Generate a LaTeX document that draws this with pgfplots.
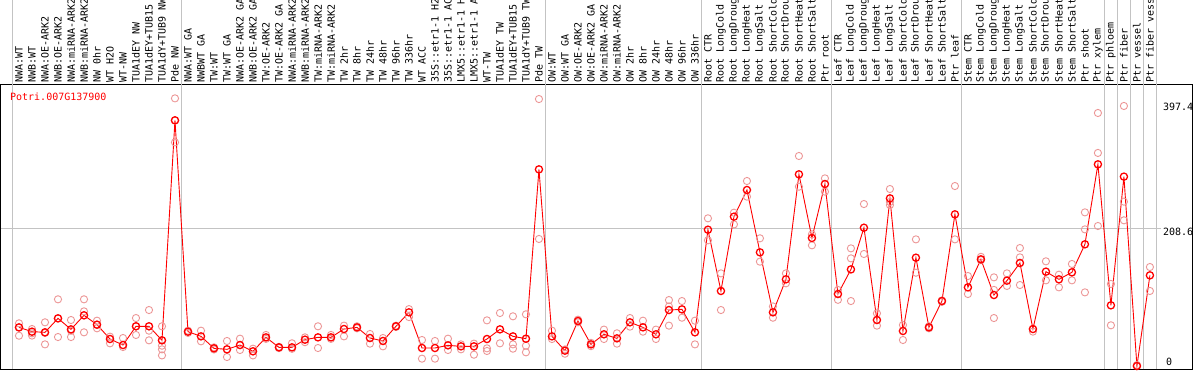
\documentclass[border=0pt]{standalone}
\usepackage{pgfplots}
\pgfplotsset{compat=1.18}
\usepackage{fontspec}
\newfontfamily\mono{DejaVu Sans Mono}
\definecolor{repink}{RGB}{236,150,150}
\definecolor{gridgray}{RGB}{195,195,195}

\pgfplotstableread{
x y
0 64.5
0 58
0 45.8
1 55.9
1 49.4
1 46
2 66
2 50
2 32.7
3 100.8
3 72
3 43.8
4 69.5
4 53.4
4 43.8
5 100.8
5 82.6
5 50.9
6 68.5
6 62
6 57
7 44.3
7 34.3
8 42.3
8 28.7
9 72.5
9 60
9 46.9
10 84.6
10 53.4
10 38.8
11 60
11 38.8
11 30.7
11 25.2
11 16
12 404.5
12 371
12 338
13 53.4
13 50
14 53.4
14 37.3
15 28.2
15 25
16 37.8
16 13.6
17 41.3
17 24.2
18 26.2
18 16
19 46.9
19 41
20 29
20 27
21 34.3
21 26
22 43.3
22 36
23 60
23 27.2
24 46.9
24 41
25 61
25 44.8
26 60
26 57
27 48.4
27 33.8
28 42.3
28 29.7
29 61
29 59
30 86
30 74
31 39.3
31 11.1
32 37.8
32 11.1
33 41.3
33 24.2
34 32.7
34 25.2
35 33.8
35 17.1
36 69
36 26.7
36 22.7
37 80.1
37 34.3
38 75.1
38 32.7
38 26.2
39 78.1
39 30.7
39 20.7
40 403.5
40 192
41 53.4
41 40.8
42 25
42 18.6
43 70
43 66
44 35
44 30
45 55
45 40.8
46 49.4
46 33.8
47 72.5
47 59.5
48 68.5
48 51.9
49 55
49 40.8
50 99.7
50 90
50 61
51 98.2
51 73
52 68.5
52 32.7
53 223.2
53 190
54 140
54 84.6
55 231.7
55 214
56 279.6
56 256
57 193
57 157.7
58 90
58 73
59 140
59 125
60 317.4
60 271
61 199
61 182.4
62 283.6
62 263.5
63 115
63 100
64 177.8
64 162.7
64 98.2
65 244.8
65 169.3
66 79.6
66 61
67 267.5
67 248
67 243.3
68 62
68 39.3
69 191.4
69 141
70 60
70 57
71 99
71 97
72 272
72 191.4
73 136
73 108.8
74 165
74 160
75 134
75 115
75 72.5
76 140
76 121
77 178.3
77 164.2
77 122.4
78 52
79 158.2
79 129.5
80 138
80 118.9
81 154.2
81 129.5
82 232.2
82 206.5
82 111.3
83 382.4
83 322
83 211.6
84 124
84 61.5
85 393
85 248.4
85 220.2
86 1.5
87 149.6
87 113.4
}\reps

\pgfplotstableread{
x y
0 58.4
1 51.9
2 50.9
3 72
4 55.4
5 76.6
6 62.5
7 40.8
8 31.7
9 60
10 60
11 38.8
12 371.3
13 51.9
14 44.8
15 26.7
16 25.2
17 31.7
18 22.2
19 43.3
20 28.2
21 28.2
22 39.8
23 43.3
24 43.3
25 55.9
26 58.4
27 42.3
28 37.8
29 60
30 81.1
31 27.2
32 27.2
33 31.2
34 29.7
35 29.7
36 40.8
37 55.4
38 44.8
39 41.3
40 297.2
41 44.8
42 23.2
43 68
44 32.7
45 47.9
46 41.8
47 66
48 58.4
49 47.9
50 84.6
51 85.6
52 50.9
53 206
54 113.4
55 225.7
56 266
57 171.8
58 81.1
59 131
60 289.7
61 193.5
62 275
63 108.8
64 146
65 209
66 69.5
67 253.4
68 52.9
69 163.7
70 58.4
71 98.2
72 229.2
73 118.9
74 161.2
75 107.3
76 129
77 155.7
78 55.9
79 142.6
80 131
81 141.6
82 183.9
83 304.8
84 91.7
85 286.2
86 0
87 137
}\means

\begin{document}
\begin{tikzpicture}[x=1pt,y=1pt]
\useasboundingbox (0,0) rectangle (1194,370);
\clip (0,0) rectangle (1194,370);
\begin{axis}[
  at={(1pt,1pt)}, anchor=south west,
  scale only axis, width=1192pt, height=284pt,
  xmin=-1.3846, xmax=90.3077, ymin=-4.53, ymax=424.7,
  clip=false,
  axis line style={black, line width=1pt},
  major tick length=0pt,
  xtick={0,...,87},
  xticklabels={NWA:WT,NWB:WT,NWA:OE-ARK2,NWB:OE-ARK2,NWA:miRNA-ARK2,NWB:miRNA-ARK2,NW 0hr,WT H2O,WT-NW,TUA1dEY NW,TUA1dEY+TUB15 NW,TUA1dY+TUB9 NW,Pde NW,
    NWA:WT GA,NWBWT GA,TW:WT,TW:WT GA,NWA:OE-ARK2 GA,NWB:OE-ARK2 GA,TW:OE-ARK2,TW:OE-ARK2 GA,NWA:miRNA-ARK2,NWB:miRNA-ARK2,TW:miRNA-ARK2,TW:miRNA-ARK2,TW 2hr,TW 8hr,TW 24hr,TW 48hr,TW 96hr,TW 336hr,WT ACC,35S::etr1-1 H2O,35S::etr1-1 ACC,LMX5::etr1-1 H2O,LMX5::etr1-1 ACC,WT-TW,TUA1dEY TW,TUA1dEY+TUB15 TW,TUA1dY+TUB9 TW,Pde TW,
    OW:WT,OW:WT GA,OW:OE-ARK2,OW:OE-ARK2 GA,OW:miRNA-ARK2,OW:miRNA-ARK2,OW 2hr,OW 8hr,OW 24hr,OW 48hr,OW 96hr,OW 336hr,
    Root CTR,Root LongCold,Root LongDrought,Root LongHeat,Root LongSalt,Root ShortCold,Root ShortDrought,Root ShortHeat,Root ShortSalt,Ptr root,
    Leaf CTR,Leaf LongCold,Leaf LongDrought,Leaf LongHeat,Leaf LongSalt,Leaf ShortCold,Leaf ShortDrought,Leaf ShortHeat,Leaf ShortSalt,Ptr leaf,
    Stem CTR,Stem LongCold,Stem LongDrought,Stem LongHeat,Stem LongSalt,Stem ShortCold,Stem ShortDrought,Stem ShortHeat,Stem ShortSalt,Ptr shoot,Ptr xylem,Ptr phloem,Ptr fiber,Ptr vessel,Ptr fiber vessel},
  xticklabel pos=right,
  xticklabel style={rotate=90, anchor=west, inner sep=0pt, font=\mono\fontsize{10}{10}\selectfont},
  xticklabel shift=2pt,
  ytick={208.6,397.4}, yticklabels={208.6,397.4},
  yticklabel pos=right,
  yticklabel style={anchor=west, inner sep=0pt, xshift=-30pt, yshift=-4pt, font=\mono\fontsize{10}{10}\selectfont},
  extra y ticks={0}, extra y tick labels={0},
  extra y tick style={yticklabel style={yshift=8pt, xshift=3pt}},
]
\pgfplotsinvokeforeach{-0.5,12.5,40.5,52.5,62.5,72.5,83.5,84.5,85.5,86.5,87.5}{
  \draw[gridgray, line width=0.9pt] (axis cs:#1,-4.53) -- (axis cs:#1,556);
}
\draw[gridgray, line width=0.9pt] (axis cs:-1.3846,208.6) -- (axis cs:87.85,208.6);
\addplot[only marks, mark=o, color=repink, mark size=3.6pt, line width=0.9pt] table[x=x,y=y] {\reps};
\addplot[red, line width=0.9pt, mark=o, mark size=3.6pt, mark options={line width=1.3pt}] table[x=x,y=y] {\means};
\node[anchor=west, text=red, inner sep=0pt, font=\mono\fontsize{10}{10}\selectfont] at (rel axis cs:0.0075,0.9577) {Potri.007G137900};
\end{axis}
\end{tikzpicture}
\end{document}
